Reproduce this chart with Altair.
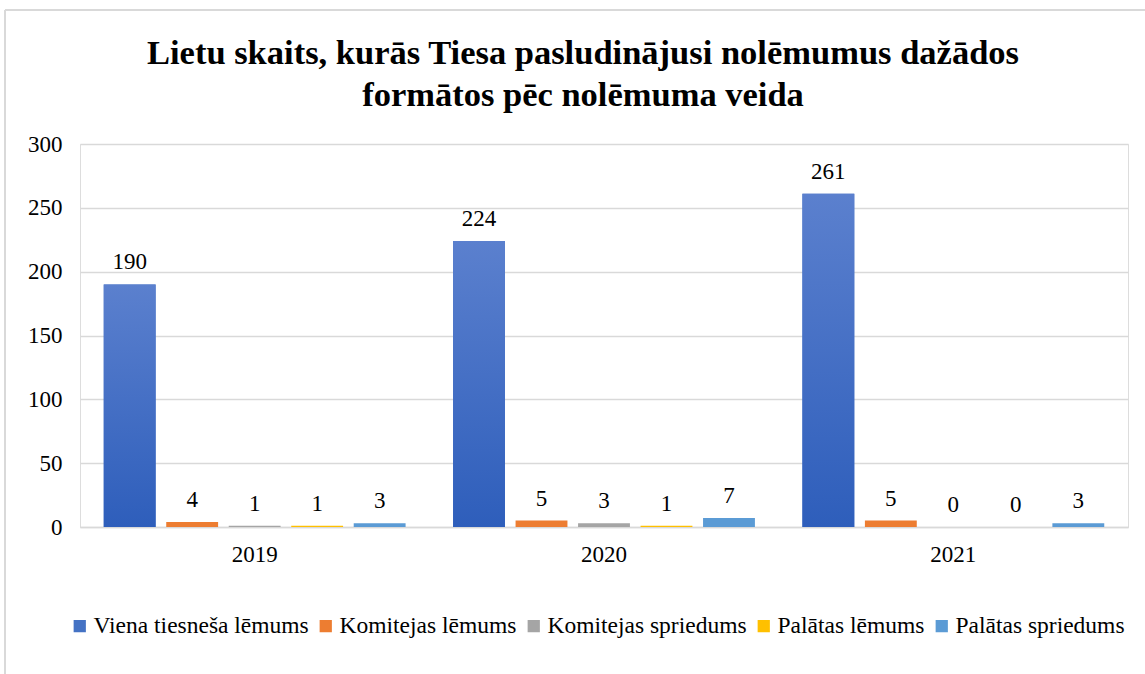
import altair as alt
import pandas as pd

years = ["2019", "2020", "2021"]
series = ["Viena tiesneša lēmums", "Komitejas lēmums", "Komitejas spriedums",
          "Palātas lēmums", "Palātas spriedums"]
viena = [190, 224, 261]
komitejas_lemums = [4, 5, 5]
komitejas_spriedums = [1, 3, 0]
palatas_lemums = [1, 1, 0]
palatas_spriedums = [3, 7, 3]
colors = ["#4472C4", "#ED7D31", "#A5A5A5", "#FFC000", "#5B9BD5"]
y_ticks = [0, 50, 100, 150, 200, 250, 300]
title_lines = ["Lietu skaits, kurās Tiesa pasludinājusi nolēmumus dažādos",
               "formātos pēc nolēmuma veida"]

vals = [viena, komitejas_lemums, komitejas_spriedums, palatas_lemums, palatas_spriedums]
rows = []
for s, v in zip(series, vals):
    for y, n in zip(years, v):
        rows.append({"Gads": y, "Veids": s, "Skaits": n})
df = pd.DataFrame(rows)

FONT = "Liberation Serif"
FS = 23
W, H = 1048, 383

x_enc = alt.X("Gads:N", sort=years, title=None,
              scale=alt.Scale(paddingInner=0, paddingOuter=0),
              axis=alt.Axis(labelAngle=0, ticks=False, domain=True, domainColor="#d9d9d9",
                            domainWidth=1.5, labelPadding=16, labelFontSize=FS,
                            labelFont=FONT, labelColor="#000000", grid=False))
xo_enc = alt.XOffset("Veids:N", sort=series,
                     scale=alt.Scale(domain=series, paddingInner=0.17, paddingOuter=0.38))
y_enc = alt.Y("Skaits:Q", title=None,
              scale=alt.Scale(domain=[0, 300], nice=False),
              axis=alt.Axis(values=y_ticks, ticks=False, domain=False, labelPadding=18,
                            labelFontSize=FS, labelFont=FONT, labelColor="#000000",
                            gridColor="#d9d9d9", gridWidth=1.5))

base = alt.Chart(df)

bars = base.mark_bar().encode(
    x=x_enc, xOffset=xo_enc, y=y_enc,
    color=alt.Color("Veids:N", sort=series,
                    scale=alt.Scale(domain=series, range=colors),
                    legend=alt.Legend(title=None, orient="none", legendX=-12, legendY=470,
                                      direction="horizontal", columns=5,
                                      symbolType="square", symbolSize=150,
                                      symbolStrokeWidth=0, labelFont=FONT,
                                      labelFontSize=23.5, labelColor="#000000",
                                      columnPadding=5, labelOffset=2,
                                      labelLimit=400)),
)

viena_grad = base.transform_filter(alt.datum.Veids == series[0]).mark_bar(
    color=alt.Gradient(gradient="linear",
                       stops=[alt.GradientStop(color="#5B80CE", offset=0),
                              alt.GradientStop(color="#2E5EBB", offset=1)],
                       x1=0, x2=0, y1=0, y2=1)
).encode(x=x_enc, xOffset=xo_enc, y=y_enc)

labels = base.mark_text(baseline="bottom", dy=-10, font=FONT, fontSize=FS,
                        color="#000000").encode(
    x=x_enc, xOffset=xo_enc, y=y_enc, text=alt.Text("Skaits:Q"))

border_left = alt.Chart(pd.DataFrame({"a": [0]})).mark_rule(
    color="#d9d9d9", strokeWidth=2).encode(
    x=alt.value(-75), y=alt.value(-134), y2=alt.value(540))
border_top = alt.Chart(pd.DataFrame({"a": [0]})).mark_rule(
    color="#d9d9d9", strokeWidth=2).encode(
    x=alt.value(-75), x2=alt.value(1080), y=alt.value(-134))

chart = alt.layer(border_left, border_top, bars, viena_grad, labels).properties(
    width=W, height=H,
    title=alt.TitleParams(text=title_lines, font=FONT, fontSize=34.5, fontWeight="bold",
                          color="#000000", lineHeight=42, anchor="middle", dx=-21,
                          offset=-104),
    padding={"left": 80, "top": 144, "right": 17, "bottom": 147},
    autosize=alt.AutoSizeParams(type="none"),
).configure_view(stroke=None).configure(background="white", font=FONT)

chart.save("out.html", embed_options={"renderer": "svg", "actions": False})
